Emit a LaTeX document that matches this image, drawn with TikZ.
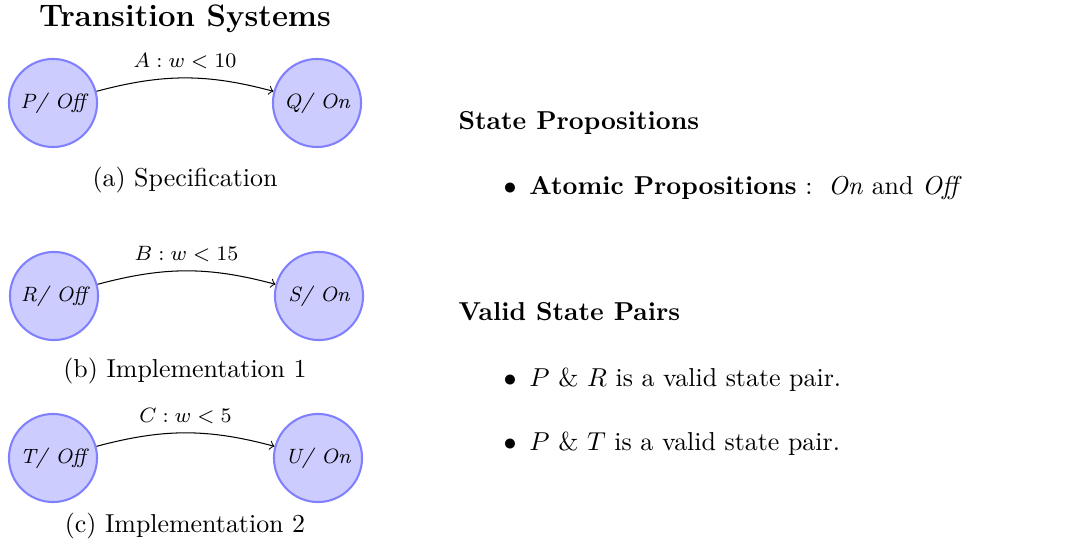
\documentclass[tikz,border=0pt]{standalone}
\usepackage{amsmath,amssymb}
\usepackage{tikz}

\begin{document}
\begin{tikzpicture}[x=0.386pt, y=-0.386pt,
    estado/.style={circle, draw=blue!50, fill=blue!20, thick, minimum size=34pt, inner sep=0pt, font=\footnotesize\itshape},
    etiqueta/.style={above, font=\footnotesize},
    texto/.style={anchor=base west, inner sep=0pt},
    leyenda/.style={anchor=base, inner sep=0pt}]
    \useasboundingbox (0,0) rectangle (1066,551);

    \node[leyenda, font=\large\bfseries] (titulo) at (185,27) {Transition Systems};

    \node[estado] (P) at (53,103) {P/ Off};
    \node[estado] (Q) at (317,103) {Q/ On};
    \node[leyenda] (capa) at (185,187) {(a) Specification};

    \node[estado] (R) at (54,296) {R/ Off};
    \node[estado] (S) at (319,296) {S/ On};
    \node[leyenda] (capb) at (185,378) {(b) Implementation 1};

    \node[estado] (T) at (53,458) {T/ Off};
    \node[estado] (U) at (318,458) {U/ On};
    \node[leyenda] (capc) at (185,532) {(c) Implementation 2};

    % las transiciones se curvan hacia arriba
    \draw[->] (P) to[bend left=15] node[etiqueta] (lA) {$A : w < 10$} (Q);
    \draw[->] (R) to[bend left=15] node[etiqueta] (lB) {$B : w < 15$} (S);
    \draw[->] (T) to[bend left=15] node[etiqueta] (lC) {$C : w < 5$} (U);

    \node[texto, font=\bfseries] (prop) at (458,130) {State Propositions};
    \node[texto] (atom) at (503,195) {$\bullet$\hspace{5pt}\textbf{Atomic Propositions} :\hspace{6pt}\textit{On} and \textit{Off}};

    \node[texto, font=\bfseries] (pares) at (458,320) {Valid State Pairs};
    \node[texto] (par1) at (503,387) {$\bullet$\hspace{5pt}$P$ \& $R$ is a valid state pair.};
    \node[texto] (par2) at (503,450) {$\bullet$\hspace{5pt}$P$ \& $T$ is a valid state pair.};
\end{tikzpicture}
\end{document}
